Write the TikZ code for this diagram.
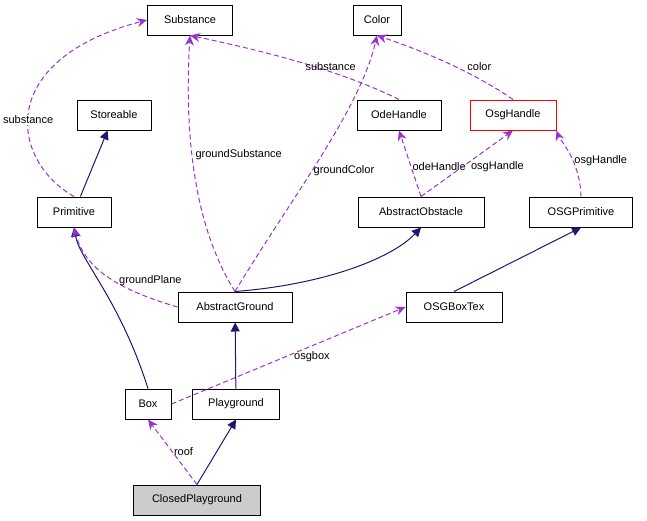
\documentclass[tikz,border=0pt]{standalone}
\usepackage{fontspec}
\setmainfont{Liberation Sans}
\usetikzlibrary{arrows.meta}
\definecolor{navy}{HTML}{191970}
\definecolor{purp}{HTML}{9A32CD}
\tikzset{
  cls/.style={draw,fill=white,line width=1pt,minimum height=30pt,inner xsep=6pt,font=\fontsize{11}{12}\selectfont},
  inh/.style={draw=navy,line width=1pt,-{Triangle[length=9pt,width=9pt,fill=navy]}},
  use/.style={draw=purp,line width=1pt,dash pattern=on 5pt off 3pt,-{Stealth[length=10pt,width=9pt,fill=purp]}},
  lbl/.style={font=\fontsize{11}{12}\selectfont,inner sep=1pt}
}
\begin{document}
\begin{tikzpicture}[x=1pt,y=-1pt]
			\useasboundingbox (0,0) rectangle (647,520);
			
			% classes
			\node[cls,minimum width=85pt] (substance) at (190,20) {Substance};
			\node[cls,minimum width=48pt] (color) at (377,20) {Color};
			\node[cls,minimum width=74pt] (storeable) at (114,115) {Storeable};
			\node[cls,minimum width=84pt] (odehandle) at (399,115) {OdeHandle};
			\node[cls,minimum width=86pt,draw=red] (osghandle) at (513,115) {OsgHandle};
			\node[cls,minimum width=74pt] (primitive) at (74,212) {Primitive};
			\node[cls,minimum width=126pt] (obstacle) at (421,212) {AbstractObstacle};
			\node[cls,minimum width=103pt] (osgprim) at (581,212) {OSGPrimitive};
			\node[cls,minimum width=114pt] (ground) at (235,307) {AbstractGround};
			\node[cls,minimum width=96pt] (boxtex) at (454,307) {OSGBoxTex};
			\node[cls,minimum width=46pt] (box) at (148,404) {Box};
			\node[cls,minimum width=87pt] (playground) at (236,404) {Playground};
			\node[cls,minimum width=127pt,fill=lightgray!80] (closed) at (197,500) {ClosedPlayground};
			
			% inheritance
			\draw[inh] (primitive) -- (storeable);
			\draw[inh] (box.north) .. controls (120,300) and (80,260) .. (primitive.south);
			\draw[inh] (ground.north) .. controls (320,285) and (390,260) .. (obstacle.south);
			\draw[inh] (playground) -- (ground);
			\draw[inh] (closed.north) -- (playground.south);
			\draw[inh] (boxtex.north) -- (osgprim.south);
			
			% usage
			\draw[use] (primitive.north) .. controls (10,160) and (-5,60) .. node[lbl,pos=0.45,fill=white] {substance} (substance.west);
			\draw[use] (ground.north) .. controls (190,220) and (185,120) .. node[lbl,pos=0.55,right,xshift=2pt] {groundSubstance} (substance.south);
			\draw[use] (ground.north) .. controls (290,200) and (360,110) .. node[lbl,pos=0.45,right] {groundColor} (color.south);
			\draw[use] (odehandle.north) .. controls (340,70) and (260,50) .. node[lbl,pos=0.35,above] {substance} (substance.south);
			\draw[use] (osghandle.north) .. controls (470,70) and (420,50) .. node[lbl,pos=0.35,above right] {color} (color.south);
			\draw[use] (obstacle.north) -- node[lbl,pos=0.45,right] {odeHandle} (odehandle.south);
			\draw[use] (obstacle.north) -- node[lbl,pos=0.55,below right,xshift=-2pt] {osgHandle} (osghandle.south);
			\draw[use] (osgprim.north) .. controls (580,160) and (560,140) .. node[lbl,pos=0.4,right] {osgHandle} (osghandle.south east);
			\draw[use] (ground.west) .. controls (120,290) and (85,270) .. node[lbl,pos=0.45,right,xshift=4pt] {groundPlane} (primitive.south);
			\draw[use] (box.east) -- node[lbl,pos=0.6,below,yshift=-4pt] {osgbox} (boxtex.west);
			\draw[use] (closed.north) -- node[lbl,pos=0.5,right] {roof} (box.south);
\end{tikzpicture}
\end{document}
